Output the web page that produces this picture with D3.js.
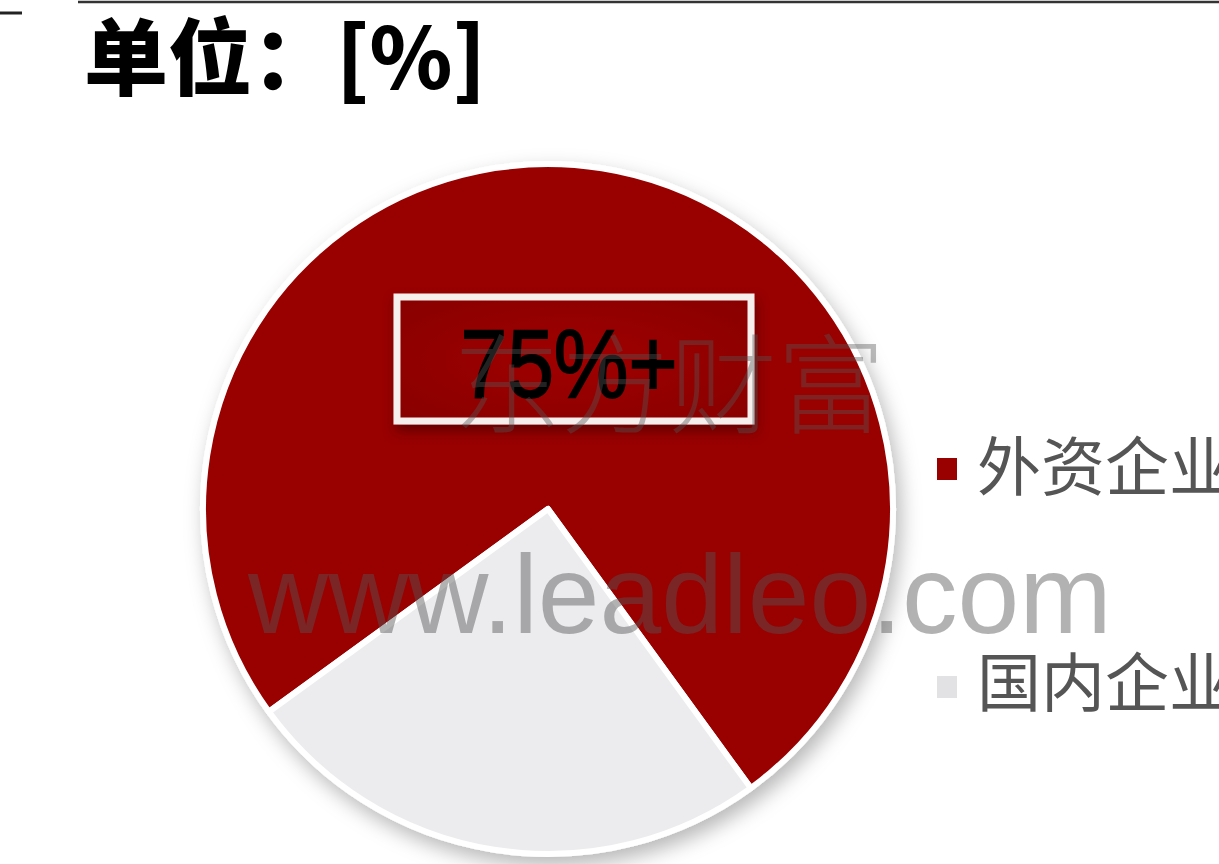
<!DOCTYPE html>
<html><head><meta charset="utf-8">
<script src="https://cdn.jsdelivr.net/npm/d3@7"></script>
<style>html,body{margin:0;padding:0;background:#fff;overflow:hidden}</style>
</head><body>
<script>
const categories = ["外资企业", "国内企业"];
const values = [75, 25];
const colors = ["#990000", "#ececee"];
const legendColors = ["#990000", "#e2e2e4"];
const unitTitle = "单位：[%]";
const calloutLabel = "75%+";
const watermarkCN = "东方财富";
const watermarkURL = "www.leadleo.com";

const W = 1219, H = 864;
const svg = d3.select("body").append("svg").attr("width", W).attr("height", H);
const defs = svg.append("defs");

const sh = defs.append("filter").attr("id", "pieShadow").attr("x", "-20%").attr("y", "-20%").attr("width", "140%").attr("height", "140%");
sh.append("feDropShadow").attr("dx", 5).attr("dy", 9).attr("stdDeviation", 10).attr("flood-color", "#000").attr("flood-opacity", 0.28);

const bsh = defs.append("filter").attr("id", "boxShadow").attr("x", "-20%").attr("y", "-30%").attr("width", "140%").attr("height", "160%");
bsh.append("feDropShadow").attr("dx", 2).attr("dy", 7).attr("stdDeviation", 6).attr("flood-color", "#300").attr("flood-opacity", 0.5);

const rg = defs.append("radialGradient").attr("id", "boxGrad").attr("cx", "50%").attr("cy", "50%").attr("r", "70%");
rg.append("stop").attr("offset", "0%").attr("stop-color", "#a00000");
rg.append("stop").attr("offset", "100%").attr("stop-color", "#880000");

// top rule and dash
svg.append("line").attr("x1", 78).attr("x2", W).attr("y1", 2).attr("y2", 2).attr("stroke", "#333").attr("stroke-width", 2.5);
svg.append("line").attr("x1", 0).attr("x2", 22).attr("y1", 13).attr("y2", 13).attr("stroke", "#222").attr("stroke-width", 3);

// title
svg.append("text").attr("x", 84).attr("y", 89)
  .attr("font-family", "'Noto Sans CJK SC', sans-serif").attr("font-weight", 900)
  .attr("font-size", 84).attr("fill", "#000").text(unitTitle);

// pie
const cx = 548, cy = 509, R = 345;
const startA = -126 * Math.PI / 180;
const pie = d3.pie().sort(null).startAngle(startA).endAngle(startA + 2 * Math.PI);
const arc = d3.arc().innerRadius(0).outerRadius(R);
const g = svg.append("g").attr("transform", `translate(${cx},${cy})`);
g.append("g").attr("filter", "url(#pieShadow)")
  .selectAll("path").data(pie(values)).join("path")
  .attr("d", arc).attr("fill", (d, i) => colors[i])
  .attr("stroke", "#fff").attr("stroke-width", 6).attr("stroke-linejoin", "round");

// callout box
const box = svg.append("g");
box.append("rect").attr("x", 397).attr("y", 297).attr("width", 354).attr("height", 124)
  .attr("fill", "url(#boxGrad)").attr("stroke", "#f7eeee").attr("stroke-width", 7)
  .attr("filter", "url(#boxShadow)");
box.append("text").attr("transform", "translate(569,397) scale(1,1.15)")
  .attr("text-anchor", "middle")
  .attr("font-family", "'Liberation Sans', Arial, sans-serif")
  .attr("font-size", 84).attr("fill", "#000").attr("stroke", "#000").attr("stroke-width", 1.6)
  .text(calloutLabel);

// legend
const leg = svg.append("g");
const legY = [469, 687];
const legBase = [490, 706];
categories.forEach((c, i) => {
  leg.append("rect").attr("x", 937).attr("y", legY[i] - 11).attr("width", 20).attr("height", 22).attr("fill", legendColors[i]);
  leg.append("text").attr("x", 977).attr("y", legBase[i])
    .attr("font-family", "'Noto Sans CJK SC', sans-serif").attr("font-size", 64)
    .attr("fill", "#555").text(c);
});

// watermarks
svg.append("text").attr("x", 453).attr("y", 425)
  .attr("font-family", "'Noto Sans CJK SC', sans-serif").attr("font-weight", 300).attr("font-size", 108)
  .attr("fill", "#555").attr("fill-opacity", 0.4).text(watermarkCN);
svg.append("text").attr("x", 248).attr("y", 633)
  .attr("font-family", "'Liberation Sans', Arial, sans-serif").attr("font-size", 111)
  .attr("fill", "#555").attr("fill-opacity", 0.45).text(watermarkURL);
</script>
</body></html>
